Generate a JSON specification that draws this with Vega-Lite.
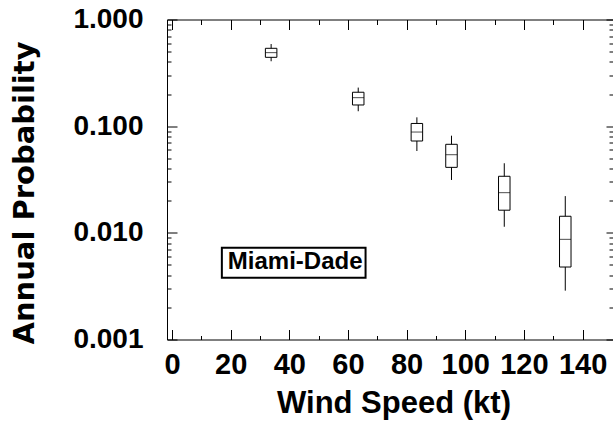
{
  "$schema": "https://vega.github.io/schema/vega-lite/v6.json",
  "autosize": {"type": "none"},
  "padding": {"left": 167, "top": 19.5, "right": 0, "bottom": 83.5},
  "width": 446,
  "height": 320,
  "background": "white",
  "config": {
    "view": {"stroke": "black", "strokeWidth": 1},
    "axis": {"grid": false, "domain": false, "tickColor": "black", "tickWidth": 1, "labelColor": "black", "titleColor": "black", "labelFont": "Liberation Sans", "labelFontWeight": "bold", "titleFont": "Liberation Sans", "titleFontWeight": "bold"}
  },
  "datasets": {
    "boxes": [
      {"speed": 33.8, "lo": 0.406, "q1": 0.442, "med": 0.489, "q3": 0.537, "hi": 0.589},
      {"speed": 63.5, "lo": 0.138, "q1": 0.158, "med": 0.185, "q3": 0.208, "hi": 0.23},
      {"speed": 83.5, "lo": 0.0585, "q1": 0.0726, "med": 0.0881, "q3": 0.106, "hi": 0.121},
      {"speed": 95.3, "lo": 0.0313, "q1": 0.0411, "med": 0.054, "q3": 0.0676, "hi": 0.0814},
      {"speed": 113.3, "lo": 0.0114, "q1": 0.0163, "med": 0.0238, "q3": 0.0339, "hi": 0.0449},
      {"speed": 134.1, "lo": 0.00287, "q1": 0.00478, "med": 0.00869, "q3": 0.0143, "hi": 0.0221}
    ],
    "label": [
      {"label": "Miami-Dade", "x": 42, "y": 0.00533, "x1": 17, "x2": 66, "y1": 0.0038, "y2": 0.00726}
    ]
  },
  "resolve": {"axis": {"x": "independent", "y": "independent"}},
  "layer": [
    {
      "data": {"name": "boxes"},
      "mark": {"type": "rule", "color": "black", "strokeWidth": 1},
      "encoding": {
        "x": {"field": "speed", "type": "quantitative", "scale": {"domain": [0, 148.667], "nice": false, "zero": false},
          "axis": {"orient": "bottom", "values": [0, 20, 40, 60, 80, 100, 120, 140], "tickSize": -10, "labelFontSize": 29, "labelPadding": 44, "labelBaseline": "alphabetic", "title": "Wind Speed (kt)", "titleFontSize": 31, "titleX": 226.5, "titleY": 72.5, "titleBaseline": "alphabetic", "titleAlign": "center"}},
        "y": {"field": "lo", "type": "quantitative", "scale": {"type": "log", "domain": [0.001, 1], "nice": false},
          "axis": {"orient": "left", "values": [0.001, 0.01, 0.1, 1], "format": ".3f", "tickSize": -10, "labelFontSize": 28, "labelPadding": 34, "title": "Annual Probability", "titleFont": "DejaVu Sans", "titleFontSize": 29, "titleX": -134, "titleY": 173, "titleBaseline": "alphabetic", "titleAlign": "center", "titleAngle": 270}},
        "y2": {"field": "hi"}
      }
    },
    {
      "data": {"name": "boxes"},
      "mark": {"type": "bar", "fill": "white", "stroke": "black", "strokeWidth": 1, "size": 11.5},
      "encoding": {
        "x": {"field": "speed", "type": "quantitative", "scale": {"domain": [0, 148.667], "nice": false, "zero": false},
          "axis": {"orient": "top", "values": [0, 20, 40, 60, 80, 100, 120, 140], "tickSize": -10, "labels": false, "title": null}},
        "y": {"field": "q1", "type": "quantitative", "scale": {"type": "log", "domain": [0.001, 1], "nice": false},
          "axis": {"orient": "right", "values": [0.001, 0.01, 0.1, 1], "tickSize": -7, "labels": false, "title": null}},
        "y2": {"field": "q3"}
      }
    },
    {
      "data": {"name": "boxes"},
      "mark": {"type": "tick", "orient": "horizontal", "color": "black", "size": 11.5, "thickness": 1},
      "encoding": {
        "x": {"field": "speed", "type": "quantitative", "scale": {"domain": [0, 148.667], "nice": false, "zero": false},
          "axis": {"orient": "bottom", "values": [10, 30, 50, 70, 90, 110, 130], "tickSize": -4, "labels": false, "title": null}},
        "y": {"field": "med", "type": "quantitative", "scale": {"type": "log", "domain": [0.001, 1], "nice": false},
          "axis": {"orient": "left", "values": [0.002, 0.003, 0.004, 0.005, 0.006, 0.007, 0.008, 0.009, 0.02, 0.03, 0.04, 0.05, 0.06, 0.07, 0.08, 0.09, 0.2, 0.3, 0.4, 0.5, 0.6, 0.7, 0.8, 0.9], "tickSize": -4, "labels": false, "title": null}}
      }
    },
    {
      "data": {"name": "label"},
      "mark": {"type": "rect", "fill": "white", "stroke": "black", "strokeWidth": 2},
      "encoding": {
        "x": {"field": "x1", "type": "quantitative", "scale": {"domain": [0, 148.667], "nice": false, "zero": false},
          "axis": {"orient": "top", "values": [10, 30, 50, 70, 90, 110, 130], "tickSize": -5, "labels": false, "title": null}},
        "x2": {"field": "x2"},
        "y": {"field": "y1", "type": "quantitative", "scale": {"type": "log", "domain": [0.001, 1], "nice": false},
          "axis": {"orient": "right", "values": [0.002, 0.003, 0.004, 0.005, 0.006, 0.007, 0.008, 0.009, 0.02, 0.03, 0.04, 0.05, 0.06, 0.07, 0.08, 0.09, 0.2, 0.3, 0.4, 0.5, 0.6, 0.7, 0.8, 0.9], "tickSize": -4, "labels": false, "title": null}},
        "y2": {"field": "y2"}
      }
    },
    {
      "data": {"name": "label"},
      "mark": {"type": "text", "font": "Liberation Sans", "fontWeight": "bold", "fontSize": 24, "color": "black", "align": "center", "baseline": "middle"},
      "encoding": {
        "x": {"field": "x", "type": "quantitative", "scale": {"domain": [0, 148.667], "nice": false, "zero": false}, "axis": null},
        "y": {"field": "y", "type": "quantitative", "scale": {"type": "log", "domain": [0.001, 1], "nice": false}, "axis": null},
        "text": {"field": "label"}
      }
    }
  ]
}
